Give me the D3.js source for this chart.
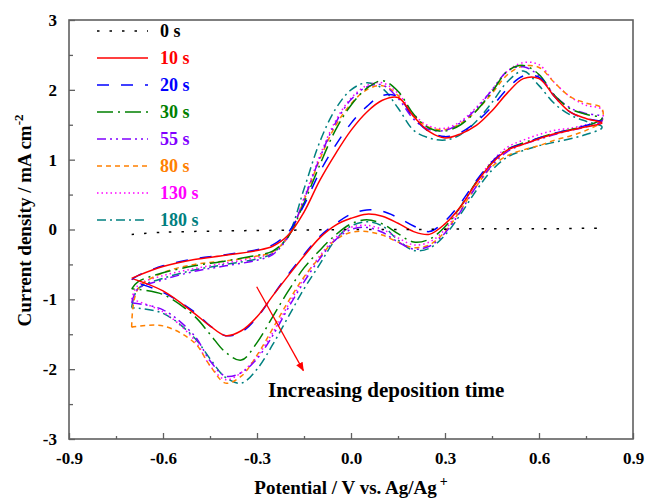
<!DOCTYPE html>
<html>
<head>
<script src="https://d3js.org/d3.v7.min.js"></script>
<style>
  body { margin: 0; background: #fff; }
  text { font-family: "Liberation Serif", "Times New Roman", serif; font-weight: bold; }
</style>
</head>
<body>
<script>
const width = 648, height = 503;
const margin = {top: 20, right: 15, bottom: 64, left: 69};

// potential grids (V) for the forward (anodic) and reverse (cathodic) sweeps
const potF = [-0.7,-0.68,-0.6,-0.5,-0.4,-0.3,-0.25,-0.2,-0.15,-0.1,-0.05,0,0.05,0.1,0.15,0.2,0.25,0.3,0.35,0.4,0.45,0.5,0.55,0.6,0.65,0.7,0.75,0.8];
const potR = [0.8,0.75,0.7,0.65,0.6,0.55,0.5,0.45,0.4,0.35,0.3,0.25,0.2,0.15,0.1,0.05,0,-0.05,-0.1,-0.15,-0.2,-0.25,-0.3,-0.35,-0.4,-0.45,-0.5,-0.6,-0.7];

// 0 s : blank electrode
const pot0 = [-0.7,-0.6,-0.4,-0.2,0,0.2,0.4,0.6,0.8];
const cur0 = [-0.07,-0.04,-0.02,-0.01,0,0,0.01,0.01,0.02];

// current density (mA cm-2)
const fwd10  = [-0.70,-0.66,-0.53,-0.43,-0.37,-0.30,-0.24,-0.08,0.25,0.70,1.08,1.42,1.68,1.85,1.89,1.62,1.40,1.31,1.37,1.49,1.70,1.96,2.16,2.16,1.90,1.68,1.59,1.53];
const rev10  = [1.52,1.47,1.42,1.37,1.30,1.22,1.14,0.95,0.67,0.33,0.08,-0.07,-0.03,0.09,0.19,0.22,0.16,0.06,-0.12,-0.38,-0.66,-0.95,-1.25,-1.45,-1.52,-1.38,-1.20,-0.88,-0.70];

const fwd20  = [-0.72,-0.66,-0.52,-0.42,-0.36,-0.29,-0.22,-0.04,0.35,0.82,1.20,1.52,1.76,1.92,1.90,1.60,1.40,1.33,1.39,1.54,1.76,2.02,2.20,2.18,1.90,1.68,1.59,1.55];
const rev20  = [1.55,1.49,1.43,1.38,1.31,1.23,1.15,0.97,0.70,0.38,0.12,-0.03,0.05,0.17,0.26,0.28,0.22,0.08,-0.10,-0.36,-0.64,-0.95,-1.26,-1.47,-1.52,-1.38,-1.18,-0.90,-0.74];

const fwd30  = [-0.85,-0.75,-0.62,-0.52,-0.45,-0.37,-0.31,-0.10,0.38,0.92,1.42,1.78,2.02,2.13,1.98,1.65,1.45,1.41,1.50,1.70,1.97,2.27,2.35,2.22,1.92,1.73,1.65,1.60];
const rev30  = [1.58,1.48,1.43,1.38,1.31,1.24,1.15,0.96,0.68,0.33,0.04,-0.14,-0.18,-0.06,0.08,0.14,0.08,-0.08,-0.30,-0.55,-0.88,-1.25,-1.62,-1.87,-1.76,-1.50,-1.24,-0.93,-0.85];

const fwd55  = [-1.05,-0.85,-0.72,-0.60,-0.52,-0.44,-0.36,-0.10,0.43,1.02,1.52,1.86,2.04,2.07,1.88,1.58,1.43,1.42,1.53,1.73,2.00,2.27,2.33,2.20,1.92,1.74,1.66,1.62];
const rev55  = [1.55,1.47,1.42,1.36,1.29,1.22,1.12,0.92,0.62,0.26,-0.05,-0.24,-0.28,-0.18,-0.04,0.03,0.00,-0.15,-0.42,-0.75,-1.12,-1.52,-1.85,-2.05,-2.10,-1.88,-1.52,-1.15,-1.05];

const fwd80  = [-1.40,-0.85,-0.62,-0.50,-0.45,-0.38,-0.32,-0.10,0.42,1.00,1.48,1.80,2.00,2.06,1.92,1.62,1.46,1.43,1.52,1.70,1.95,2.22,2.34,2.32,2.10,1.90,1.81,1.74];
const rev80  = [1.55,1.42,1.34,1.28,1.20,1.14,1.06,0.90,0.62,0.28,-0.03,-0.22,-0.26,-0.18,-0.08,-0.03,-0.04,-0.15,-0.40,-0.68,-1.03,-1.42,-1.80,-2.10,-2.20,-1.95,-1.62,-1.38,-1.40];

const fwd130 = [-1.00,-0.80,-0.66,-0.56,-0.48,-0.40,-0.33,-0.10,0.45,1.05,1.55,1.88,2.06,2.10,1.95,1.65,1.48,1.45,1.55,1.75,2.00,2.27,2.39,2.36,2.10,1.90,1.78,1.72];
const rev130 = [1.55,1.50,1.45,1.42,1.36,1.28,1.18,0.98,0.68,0.32,0.00,-0.18,-0.22,-0.12,0.00,0.06,0.03,-0.12,-0.38,-0.70,-1.08,-1.48,-1.82,-2.05,-2.15,-1.95,-1.58,-1.18,-1.00];

const fwd180 = [-1.12,-0.85,-0.70,-0.58,-0.50,-0.42,-0.34,-0.08,0.58,1.25,1.72,2.00,2.10,2.02,1.74,1.42,1.31,1.28,1.36,1.55,1.82,2.12,2.27,2.06,1.80,1.64,1.55,1.48];
const rev180 = [1.45,1.36,1.30,1.25,1.20,1.13,1.04,0.85,0.56,0.22,-0.08,-0.27,-0.30,-0.15,0.05,0.11,0.05,-0.15,-0.50,-0.85,-1.25,-1.65,-2.00,-2.20,-2.12,-1.85,-1.55,-1.20,-1.12];

const labels = ["0 s","10 s","20 s","30 s","55 s","80 s","130 s","180 s"];
const colors = ["#000000","#ff0000","#0000ff","#008000","#8000ff","#ff8000","#ff00ff","#008080"];
const dashes = ["2.5,10","none","12,12","16,5,2,5","9,4,2,4,2,4","5,4","1.5,3","9,4,2,4"];

const xTicks = [-0.9,-0.6,-0.3,0,0.3,0.6,0.9];
const xMinor = [-0.75,-0.45,-0.15,0.15,0.45,0.75];
const yTicks = [-3,-2,-1,0,1,2,3];
const yMinor = [-2.5,-1.5,-0.5,0.5,1.5,2.5];

const svg = d3.select("body").append("svg")
  .attr("width", width).attr("height", height);

const x = d3.scaleLinear().domain([-0.9, 0.9]).range([margin.left, width - margin.right]);
const y = d3.scaleLinear().domain([-3, 3]).range([height - margin.bottom, margin.top]);

const loop = (pf, cf, pr, cr) => pf.map((p, i) => [p, cf[i]]).concat(pr.map((p, i) => [p, cr[i]]));
const curves = [
  pot0.map((p, i) => [p, cur0[i]]),
  loop(potF, fwd10, potR, rev10),
  loop(potF, fwd20, potR, rev20),
  loop(potF, fwd30, potR, rev30),
  loop(potF, fwd55, potR, rev55),
  loop(potF, fwd80, potR, rev80),
  loop(potF, fwd130, potR, rev130),
  loop(potF, fwd180, potR, rev180)
];

const line = d3.line()
  .x(d => x(d[0])).y(d => y(d[1]))
  .curve(d3.curveCatmullRom.alpha(0.5));

// draw later series first so 10 s / 20 s stay on top like the original
const order = [7, 6, 5, 4, 3, 2, 1, 0];
svg.append("g").selectAll("path")
  .data(order)
  .join("path")
  .attr("d", i => line(curves[i]))
  .attr("fill", "none")
  .attr("stroke", i => colors[i])
  .attr("stroke-width", 1.5)
  .attr("stroke-dasharray", i => dashes[i]);

// axes
const axisColor = "#606060";
svg.append("g").attr("transform", `translate(0,${y(-3)})`)
  .call(d3.axisBottom(x).tickValues(xTicks).tickSize(-6).tickPadding(13).tickFormat(d => d.toFixed(1)));
svg.append("g").attr("transform", `translate(0,${y(-3)})`)
  .call(d3.axisBottom(x).tickValues(xMinor).tickSize(-3).tickFormat(""));
svg.append("g").attr("transform", `translate(${x(-0.9)},0)`)
  .call(d3.axisLeft(y).tickValues(yTicks).tickSize(-6).tickPadding(12).tickFormat(d => String(d)));
svg.append("g").attr("transform", `translate(${x(-0.9)},0)`)
  .call(d3.axisLeft(y).tickValues(yMinor).tickSize(-4).tickFormat(""));

svg.selectAll(".domain").remove();
svg.selectAll(".tick line").attr("stroke", axisColor).attr("stroke-width", 1.3);
svg.selectAll(".tick text")
  .attr("fill", "#000")
  .style("font-size", "17px")
  .style("font-family", "'Liberation Serif', serif")
  .style("font-weight", "bold");

svg.append("rect")
  .attr("x", x(-0.9)).attr("y", y(3))
  .attr("width", x(0.9) - x(-0.9)).attr("height", y(-3) - y(3))
  .attr("fill", "none").attr("stroke", axisColor).attr("stroke-width", 1.6);

// axis titles
const xt = svg.append("text")
  .attr("x", (x(-0.9) + x(0.9)) / 2).attr("y", 494)
  .attr("text-anchor", "middle").style("font-size", "19px");
xt.append("tspan").text("Potential / V vs. Ag/Ag");
xt.append("tspan").attr("dx", 3).attr("dy", -8).style("font-size", "14px").text("+");

const yt = svg.append("text")
  .attr("transform", `translate(31,${y(0) - 9}) rotate(-90)`)
  .attr("text-anchor", "middle").style("font-size", "19px");
yt.append("tspan").text("Current density / mA cm");
yt.append("tspan").attr("dy", -8).style("font-size", "13px").text("-2");

// legend
const legend = svg.append("g");
labels.forEach((lab, i) => {
  const ly = 31 + i * 27;
  legend.append("line")
    .attr("x1", 97).attr("x2", 148).attr("y1", ly).attr("y2", ly)
    .attr("stroke", colors[i]).attr("stroke-width", 1.5)
    .attr("stroke-dasharray", dashes[i]);
  legend.append("text")
    .attr("x", 160).attr("y", ly + 6)
    .attr("fill", colors[i]).style("font-size", "18px")
    .text(lab);
});

// arrow annotation
svg.append("defs").append("marker")
  .attr("id", "head").attr("viewBox", "0 0 10 10")
  .attr("refX", 9).attr("refY", 5)
  .attr("markerWidth", 7).attr("markerHeight", 7)
  .attr("orient", "auto")
  .append("path").attr("d", "M0,1 L10,5 L0,9 Z").attr("fill", "#ff0000");

svg.append("line")
  .attr("x1", x(-0.301)).attr("y1", y(-0.82))
  .attr("x2", x(-0.152)).attr("y2", y(-2.02))
  .attr("stroke", "#ff0000").attr("stroke-width", 1.3)
  .attr("marker-end", "url(#head)");

svg.append("text")
  .attr("x", x(-0.265)).attr("y", y(-2.40))
  .style("font-size", "21px")
  .text("Increasing deposition time");
</script>
</body>
</html>
